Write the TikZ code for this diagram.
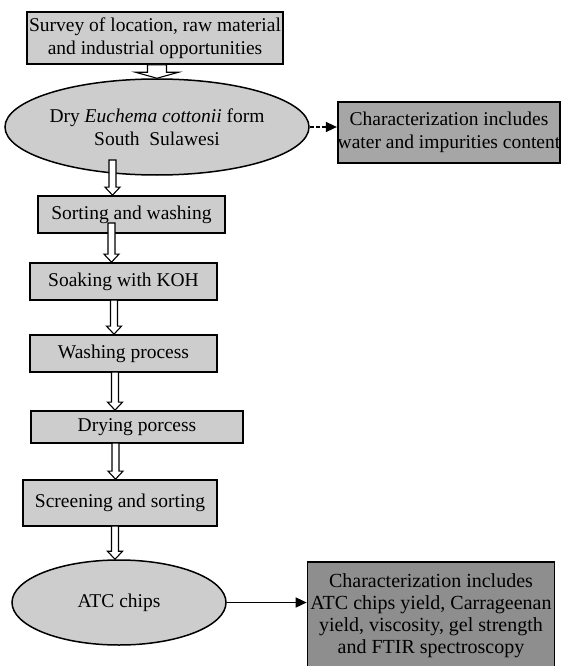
\documentclass[tikz,border=0pt]{standalone}
\usepackage{fontspec}
\setmainfont{Liberation Serif}
\usetikzlibrary{arrows.meta, shapes.geometric, calc}

\definecolor{boxgray}{RGB}{205,205,205}
\definecolor{chargray}{RGB}{166,166,166}
\definecolor{chardark}{RGB}{142,142,142}

\begin{document}
\begin{tikzpicture}[
    x=1pt, y=-1pt, % pixel-like units, y pointing down
    >={Triangle[length=11pt, width=10pt]}, % Default arrow tip
    txt/.style={font=\fontsize{19.5}{22.5}\selectfont}, % Text size for all nodes
    stage/.style={txt, draw, fill=boxgray, line width=1.7pt, inner sep=0pt, align=center}, % Process boxes
    sample/.style={txt, ellipse, draw, fill=boxgray, line width=1.5pt, inner sep=0pt, align=center}, % Material ellipses
    result/.style={txt, draw, line width=1.7pt, inner sep=0pt, align=center}, % Characterization boxes
    hollow/.style n args={3}{draw, fill=white, line width=1.1pt,
        to path={let \p1=(\tikztostart), \p2=(\tikztotarget) in
            (\x1-#1,\y1) -- (\x1-#1,\y2+#3) -- (\x1-#2,\y2+#3) -- (\x1,\y2)
            -- (\x1+#2,\y2+#3) -- (\x1+#1,\y2+#3) -- (\x1+#1,\y1) -- cycle}}, % Open block arrow
    flow/.style={hollow={3.5pt}{7.5pt}{8pt}} % Small block arrow between steps
]

    % Page frame
    \clip (0,0) rectangle (562,666);

    % Main column
    \node[stage, minimum width=256pt, minimum height=52pt] (survey) at (155,38)
        {Survey of location, raw material\\and industrial opportunities};
    \node[sample, minimum width=300pt, minimum height=96pt] (dry) at (157,127)
        {Dry \textit{Euchema cottonii} form\\South~~Sulawesi};
    \node[stage, minimum width=187pt, minimum height=37pt] (sort) at (131.5,214.5) {Sorting and washing};
    \node[stage, minimum width=187pt, minimum height=37pt] (soak) at (123.5,281.5) {Soaking with KOH};
    \node[stage, minimum width=187pt, minimum height=37pt] (wash) at (123.5,353.5) {Washing process};
    \node[stage, minimum width=212pt, minimum height=32pt] (drying) at (137,427) {Drying porcess};
    \node[stage, minimum width=194pt, minimum height=46pt] (screen) at (120,503) {Screening and sorting};
    \node[sample, minimum width=214pt, minimum height=85pt] (atc) at (119,602.5) {ATC chips};

    % Characterization boxes
    \node[result, fill=chargray, minimum width=222pt, minimum height=61pt] (char1) at (449,132.5)
        {Characterization includes\\water and impurities content};
    \node[result, fill=chardark, font=\fontsize{20}{22}\selectfont, minimum width=247pt, minimum height=108pt] (char2) at (431,616)
        {Characterization includes\\ATC chips yield, Carrageenan\\yield, viscosity, gel strength\\and FTIR spectroscopy};

    % Start points of the block arrows
    \coordinate (a2) at (112.5,160);
    \coordinate (a3) at (111.5,223);
    \coordinate (a4) at (114,300);
    \coordinate (a5) at (115,372);
    \coordinate (a6) at (115.5,443);
    \coordinate (a7) at (115,526);

    % Block arrows
    \draw[hollow={9.5pt}{21.5pt}{6pt}] (survey.south -| dry.north) to (dry.north);
    \draw[flow] (a2) to (a2 |- sort.north);
    \draw[flow] (a3) to (a3 |- soak.north);
    \draw[flow] (a4) to (a4 |- wash.north);
    \draw[flow] (a5) to (a5 |- drying.north);
    \draw[flow] (a6) to (a6 |- screen.north);
    \draw[flow] (a7) to (a7 |- atc.north);

    % Side arrows
    \draw[->, line width=1.6pt, dash pattern=on 4pt off 2pt] (dry.east) -- (dry.east -| char1.west);
    \draw[->, line width=1.6pt] (atc.east) -- (atc.east -| char2.west);

\end{tikzpicture}
\end{document}
